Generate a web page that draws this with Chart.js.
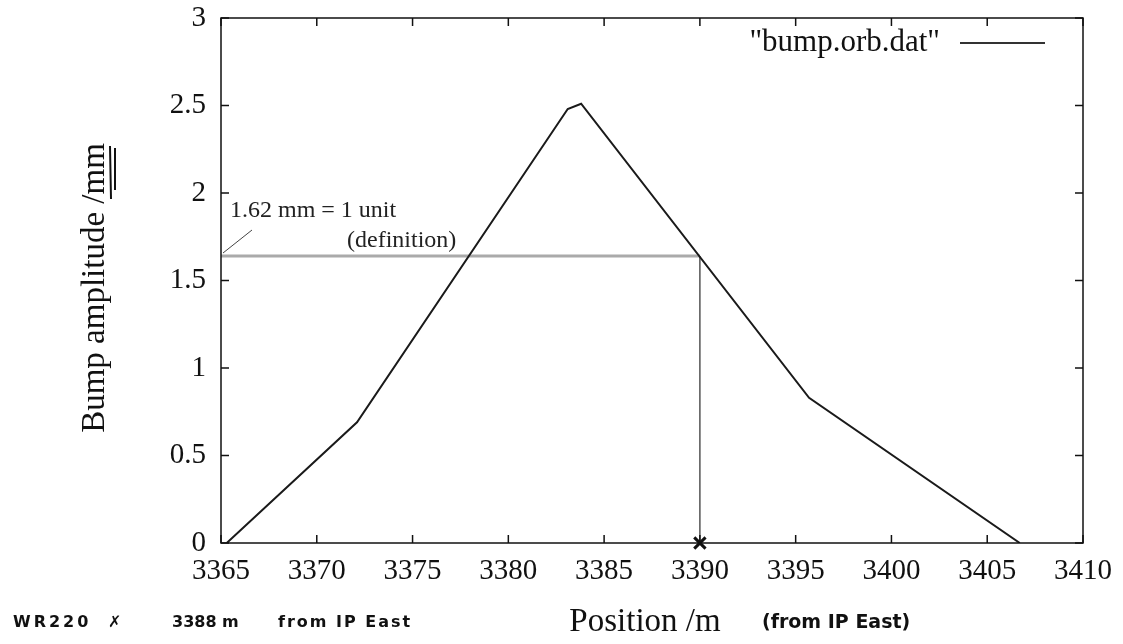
<!DOCTYPE html>
<html>
<head>
<meta charset="utf-8">
<script src="https://cdn.jsdelivr.net/npm/chart.js@4.4.1/dist/chart.umd.min.js"></script>
<style>
  html, body { margin: 0; padding: 0; background: #fff; }
  #wrap { width: 1123px; height: 644px; position: relative; }
</style>
</head>
<body>
<div id="wrap"><canvas id="bumpChart" width="1123" height="644"></canvas></div>
<script>
// Bump orbit data
const positions = [3365.3, 3372.1, 3383.1, 3383.8, 3395.7, 3406.7];
const amplitudes = [0, 0.69, 2.48, 2.51, 0.83, 0];

// marker / definition line
const markPos = 3390;
const unitLevel = 1.64;

// axes
const xTicks = [3365, 3370, 3375, 3380, 3385, 3390, 3395, 3400, 3405, 3410];
const yTicks = [0, 0.5, 1, 1.5, 2, 2.5, 3];

const serif = '"Liberation Serif", "Times New Roman", serif';
const hand = '"DejaVu Sans", sans-serif';

// extra drawing: frame, inward ticks, legend, notes
const decorations = {
    id: 'decorations',
    afterDraw(chart) {
        const ctx = chart.ctx;
        const x = chart.scales.x;
        const y = chart.scales.y;
        const a = chart.chartArea;
        ctx.save();

        // frame
        ctx.strokeStyle = '#111';
        ctx.lineWidth = 1.5;
        ctx.strokeRect(a.left, a.top, a.right - a.left, a.bottom - a.top);

        // inward ticks on all four sides
        ctx.beginPath();
        xTicks.forEach(v => {
            const px = x.getPixelForValue(v);
            ctx.moveTo(px, a.bottom); ctx.lineTo(px, a.bottom - 8);
            ctx.moveTo(px, a.top); ctx.lineTo(px, a.top + 8);
        });
        yTicks.forEach(v => {
            const py = y.getPixelForValue(v);
            ctx.moveTo(a.left, py); ctx.lineTo(a.left + 8, py);
            ctx.moveTo(a.right, py); ctx.lineTo(a.right - 8, py);
        });
        ctx.stroke();

        // legend (gnuplot style: text then sample line)
        ctx.fillStyle = '#111';
        ctx.font = '31px ' + serif;
        ctx.textAlign = 'right';
        ctx.textBaseline = 'middle';
        ctx.fillText('"bump.orb.dat"', 940, 43);
        ctx.strokeStyle = '#333';
        ctx.lineWidth = 2;
        ctx.beginPath();
        ctx.moveTo(960, 43); ctx.lineTo(1045, 43);
        ctx.stroke();

        // definition note
        ctx.font = '24px ' + serif;
        ctx.textAlign = 'left';
        ctx.fillStyle = '#222';
        ctx.fillText('1.62 mm = 1 unit', 230, 211);
        ctx.fillText('(definition)', 347, 241);
        ctx.strokeStyle = '#444';
        ctx.lineWidth = 1;
        ctx.beginPath();
        ctx.moveTo(a.left + 2, y.getPixelForValue(unitLevel) - 3);
        ctx.lineTo(252, 230);
        ctx.stroke();

        // axis titles
        ctx.fillStyle = '#111';
        ctx.font = '33px ' + serif;
        ctx.textAlign = 'center';
        ctx.fillText('Position /m', 645, 622);
        ctx.save();
        ctx.translate(95, 288);
        ctx.rotate(-Math.PI / 2);
        ctx.fillText('Bump amplitude /mm', 0, 0);
        ctx.restore();

        // hand-written marks
        ctx.strokeStyle = '#111';
        ctx.lineWidth = 2;
        ctx.beginPath();
        ctx.moveTo(110, 146); ctx.lineTo(111, 199);
        ctx.moveTo(115, 148); ctx.lineTo(115, 190);
        ctx.stroke();

        ctx.textAlign = 'left';
        ctx.font = 'bold 19px ' + hand;
        ctx.fillText('(from IP East)', 762, 623);
        ctx.font = 'bold 16px ' + hand;
        ctx.letterSpacing = '3px';
        ctx.fillText('WR220', 13, 623);
        ctx.letterSpacing = '0px';
        ctx.fillText('\u2717', 108, 623);
        ctx.fillText('3388 m', 172, 623);
        ctx.letterSpacing = '2px';
        ctx.fillText('from IP East', 278, 623);

        ctx.restore();
    }
};

const ctx = document.getElementById('bumpChart').getContext('2d');
new Chart(ctx, {
    type: 'scatter',
    data: {
        datasets: [
            {
                label: 'bump.orb.dat',
                data: positions.map((p, i) => ({ x: p, y: amplitudes[i] })),
                showLine: true,
                borderColor: '#1a1a1a',
                borderWidth: 2,
                pointRadius: 0,
                tension: 0,
                order: 1
            },
            {
                label: 'unit level',
                data: [{ x: 3365, y: unitLevel }, { x: markPos, y: unitLevel }],
                showLine: true,
                borderColor: '#aaaaaa',
                borderWidth: 3,
                pointRadius: 0,
                order: 3
            },
            {
                label: 'marker line',
                data: [{ x: markPos, y: unitLevel }, { x: markPos, y: 0 }],
                showLine: true,
                borderColor: '#555',
                borderWidth: 1.5,
                pointRadius: 0,
                order: 2
            },
            {
                label: 'marker',
                data: [{ x: markPos, y: 0 }],
                pointStyle: 'crossRot',
                pointRadius: 8,
                borderColor: '#111',
                borderWidth: 3,
                clip: false,
                order: 0
            }
        ]
    },
    options: {
        responsive: false,
        animation: false,
        layout: { padding: { top: 18, right: 40, left: 0, bottom: 0 } },
        scales: {
            x: {
                type: 'linear',
                min: 3365,
                max: 3410,
                afterBuildTicks: s => { s.ticks = xTicks.map(v => ({ value: v })); },
                afterFit: s => { s.height = 101; s.paddingLeft = 0; s.paddingRight = 0; },
                grid: { display: false },
                border: { display: false },
                ticks: {
                    color: '#111',
                    padding: 3,
                    maxRotation: 0,
                    callback: v => String(v),
                    font: { family: serif, size: 29 }
                }
            },
            y: {
                min: 0,
                max: 3,
                afterBuildTicks: s => { s.ticks = yTicks.map(v => ({ value: v })); },
                afterFit: s => { s.width = 221; s.paddingTop = 0; s.paddingBottom = 0; },
                grid: { display: false },
                border: { display: false },
                ticks: {
                    color: '#111',
                    padding: 7,
                    callback: v => String(v),
                    font: { family: serif, size: 29 }
                }
            }
        },
        plugins: {
            legend: { display: false },
            tooltip: { enabled: false }
        }
    },
    plugins: [decorations]
});
</script>
</body>
</html>
